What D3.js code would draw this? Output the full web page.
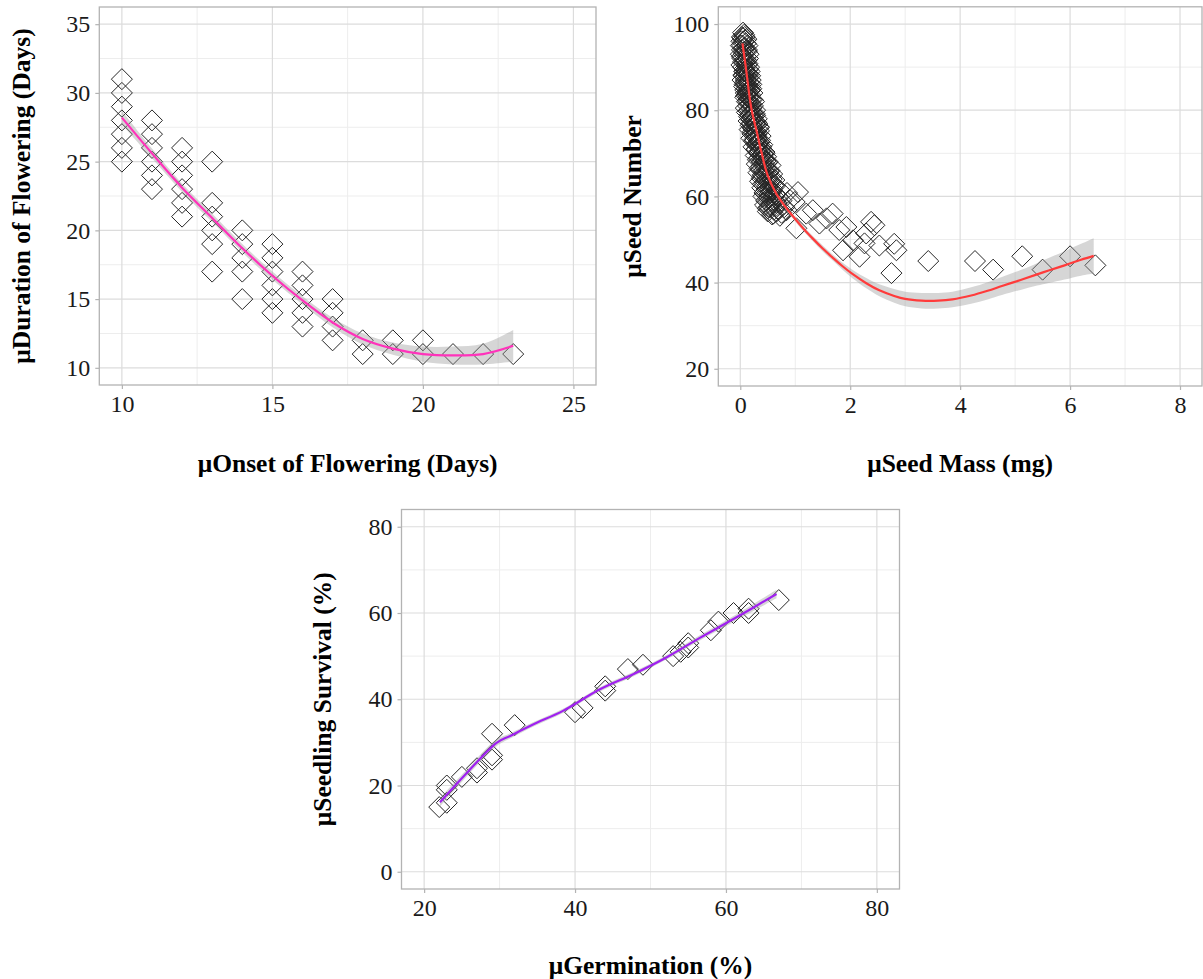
<!DOCTYPE html>
<html>
<head>
<meta charset="utf-8">
<script src="https://cdn.jsdelivr.net/npm/d3@7"></script>
<style>
  html, body { margin: 0; padding: 0; background: #fff; }
  svg { display: block; }
  .tick-label { font-family: "Liberation Serif", "Times New Roman", serif; font-size: 24px; fill: #1a1a1a; }
  .axis-title { font-family: "Liberation Serif", "Times New Roman", serif; font-size: 25.5px; font-weight: bold; fill: #000; }
</style>
</head>
<body>
<svg id="chart" width="1203" height="979"></svg>
<script>
// ---------- Panel A: onset vs. duration of flowering ----------
const onsetDays = [10,10,10,10,10,10,10, 11,11,11,11,11,11, 12,12,12,12,12,12,
  13,13,13,13,13,13, 14,14,14,14,14, 15,15,15,15,15,15, 16,16,16,16,16,
  17,17,17,17, 18,18, 19,19, 20,20, 21, 22, 23];
const durationDays = [31,30,29,28,27,26,25, 28,27,26,25,24,23, 26,25,24,23,22,21,
  25,22,21,20,19,17, 20,19,18,17,15, 19,18,17,16,15,14, 17,16,15,14,13,
  15,14,13,12, 12,11, 12,11, 12,11, 11, 11, 11];
const fitOnsetX = [10,11,12,13,14,15,16,17,18,19,20,21,22,23];
const fitDurationY = [28.2,25.6,23.1,20.9,18.7,16.7,14.9,13.3,12.1,11.4,11.0,10.9,11.0,11.6];
const fitDurationSE = [0.5,0.35,0.3,0.3,0.3,0.3,0.3,0.35,0.4,0.45,0.55,0.65,0.75,1.15];

// ---------- Panel B: seed mass vs. seed number ----------
const seedMass = [
  0.05,0.03,0.08,0.02,0.06,0.10,0.04,0.08,0.12,0.03,0.06,0.10,0.14,0.04,0.08,0.12,0.05,0.16,
  0.09,0.13,0.06,0.18,0.10,0.15,0.08,0.20,0.12,0.17,0.10,0.22,0.14,0.19,0.12,0.25,
  0.07,0.11,0.01,0.13,0.07,0.15,0.01,0.11,0.02,0.14,0.07,0.17,0.11,0.04,0.14,0.19,0.07,0.16,0.13,0.20,0.09,0.18,0.15,0.22,
  0.04,0.09,0.06,0.12,0.03,0.09,0.05,0.13,0.08,0.11,0.06,0.15,0.10,0.12,0.17,0.09,0.14,0.11,0.18,0.16,
  0.14,0.20,0.27,0.12,0.18,0.24,0.30,0.15,0.21,0.28,0.34,0.17,0.23,0.30,0.37,0.20,0.27,0.33,0.40,0.24,
  0.17,0.23,0.10,0.21,0.27,0.16,0.25,0.19,0.31,0.24,0.27,0.34,0.22,0.30,0.36,0.25,0.31,0.38,
  0.19,0.15,0.22,0.26,0.20,0.29,0.23,0.33,0.28,0.26,0.32,0.29,0.35,
  0.30,0.37,0.44,0.28,0.35,0.42,0.50,0.30,0.38,0.46,0.53,0.33,0.41,0.49,0.57,0.36,0.44,0.52,0.60,
  0.34,0.41,0.47,0.32,0.39,0.45,0.55,0.35,0.43,0.50,0.58,0.39,0.47,0.55,0.62,
  0.36,0.40,0.44,0.48,0.37,0.46,0.52,0.42,0.51,
  0.40,0.48,0.56,0.64,0.42,0.50,0.58,0.66,0.45,0.54,0.62,0.70,0.50,0.60,0.72,0.68,0.75,0.80,
  0.41,0.49,0.58,0.45,0.53,0.61,0.47,0.56,0.65,0.52,0.58,0.66,0.75,
  0.44,0.52,0.60,0.50,0.57,0.63,0.71,0.85,0.90,
  1.05,0.99,0.84,1.02,1.20,1.32,1.44,1.57,1.68,1.80,1.93,2.05,1.87,2.17,2.29,2.38,2.26,
  2.44,2.53,2.80,2.84,2.75,3.42,4.27,4.60,5.13,5.50,6.00,6.46];
const seedNumber = [
  98,97,97,96,96,95.5,95,94.5,94,94,93,92.5,92,92,91,90.5,90,90,
  89,88.5,88,88,87,86.5,86,86,85,84.5,84,84,83,82.5,82,82,
  97.5,96.5,95,95,93.5,93,93,91.5,90.5,89.5,89,89,88,87,87.5,87,85.5,85.5,84,85,83,83.5,82,82.5,
  96.8,96.2,94.3,93.7,92.4,91.8,91.2,90.8,89.6,88.7,88.2,88.3,86.6,85.8,86.2,84.7,84.3,83.4,84.8,82.8,
  81,80.5,80,79.5,79,78.5,78,77.5,77,76.5,76,75.5,75,74.5,74,73.5,73,72.5,72,71.5,
  80,81,80.5,79.5,78.8,78.5,77.5,76.5,76.8,76,74.8,75.2,74.5,73.5,73,72.8,71.8,71.5,
  81.5,79.8,78.2,79.2,77.8,77.2,75.8,76.2,74.2,73.2,72.2,70.8,72.6,
  71,70.5,70,69.5,69,68.5,68,67.5,67,66.5,66,65.5,65,64.5,64,63.5,63,62.5,62.5,
  70,69.8,69.2,68.5,68,67.5,67.2,66.5,66,65.5,65.2,64.2,63.8,63.5,63.8,
  70.6,68.8,70.3,67.8,66.2,68.2,65.8,64.8,63.2,
  62,61.5,61,60.5,60,59.5,59,58.5,58,57.5,57,57,56.5,56,55.5,60,59,57.5,
  62.8,62.2,61.8,61,60.5,60,59,58.2,57.8,57.5,55.8,56.5,56.2,
  60.8,59.7,59.3,57.2,61.3,62.4,61.5,60.8,59.2,
  61,58.7,56.8,52.6,56,56.8,53.7,54.9,56,52.2,52.9,49.8,47.5,46,51.4,54.1,49.1,
  53.3,48.6,49,47.5,42.2,45,45,43,46.1,43,46.1,44];
const fitMassX = [0.04,0.1,0.2,0.3,0.39,0.5,0.66,0.8,0.95,1.15,1.32,1.5,1.68,1.85,2.04,2.3,2.53,
  2.8,3.0,3.3,3.6,3.86,4.2,4.5,4.76,5.1,5.4,5.61,5.9,6.2,6.43];
const fitNumberY = [95.5,90,80.5,75,70,64.8,60.5,57.9,55.5,52.5,50.2,47.9,45.8,43.9,42.0,39.8,38.2,
  36.9,36.2,35.8,35.8,36.1,37.0,38.1,39.2,40.6,41.9,42.8,44.0,45.3,46.2];
const fitNumberSE = [0.8,0.7,0.6,0.5,0.5,0.5,0.5,0.5,0.5,0.6,0.6,0.7,0.7,0.8,1.0,1.2,1.4,
  1.6,1.7,1.8,1.8,1.8,1.9,2.0,2.1,2.3,2.6,2.9,3.3,3.7,4.1];

// ---------- Panel C: germination vs. seedling survival ----------
const germination = [22,23,23,23,25,27,27,29,29,29,32,40,41,44,44,47,49,53,54,55,55,58,59,61,63,63,67];
const survival = [15,16,20,19,22,24,23,27,26,32,34,37,38,43,42,47,48,50,51,52,53,56,58,60,61,60,63];
const fitGermX = [22.1,25.65,29.6,31.4,34.5,38.4,43.3,47.7,52.1,56.6,61,66.7];
const fitSurvY = [16.1,22.9,29.9,31.5,34.2,37.3,42.3,45.8,49.7,54.3,58.6,64.4];
const fitSurvSE = [1.0,0.8,0.8,0.6,0.5,0.5,0.5,0.5,0.5,0.6,0.7,1.0];

// Axis breaks
const ticksA_x = [10,15,20,25], ticksA_y = [10,15,20,25,30,35];
const ticksB_x = [0,2,4,6,8], ticksB_y = [20,40,60,80,100];
const ticksC_x = [20,40,60,80], ticksC_y = [0,20,40,60,80];

const svg = d3.select("#chart");

function mids(t) {
  const out = [];
  for (let i = 0; i < t.length - 1; i++) out.push((t[i] + t[i + 1]) / 2);
  return out;
}

function panel(cfg) {
  const x = d3.scaleLinear().domain(cfg.xDomain).range([cfg.left, cfg.right]);
  const y = d3.scaleLinear().domain(cfg.yDomain).range([cfg.bottom, cfg.top]);
  const g = svg.append("g");

  // minor grid
  const xMinor = mids(cfg.xTicks), yMinor = mids(cfg.yTicks);
  g.selectAll(".mx").data(xMinor).join("line")
    .attr("x1", d => x(d)).attr("x2", d => x(d)).attr("y1", cfg.top).attr("y2", cfg.bottom)
    .attr("stroke", "#ededed").attr("stroke-width", 1);
  g.selectAll(".my").data(yMinor).join("line")
    .attr("y1", d => y(d)).attr("y2", d => y(d)).attr("x1", cfg.left).attr("x2", cfg.right)
    .attr("stroke", "#ededed").attr("stroke-width", 1);
  // major grid
  g.selectAll(".gx").data(cfg.xTicks).join("line")
    .attr("x1", d => x(d)).attr("x2", d => x(d)).attr("y1", cfg.top).attr("y2", cfg.bottom)
    .attr("stroke", "#dcdcdc").attr("stroke-width", 1.2);
  g.selectAll(".gy").data(cfg.yTicks).join("line")
    .attr("y1", d => y(d)).attr("y2", d => y(d)).attr("x1", cfg.left).attr("x2", cfg.right)
    .attr("stroke", "#dcdcdc").attr("stroke-width", 1.2);

  // axes (ticks outside the panel)
  const ax = g.append("g").attr("transform", `translate(0,${cfg.bottom})`)
    .call(d3.axisBottom(x).tickValues(cfg.xTicks).tickSize(4).tickPadding(6));
  const ay = g.append("g").attr("transform", `translate(${cfg.left},0)`)
    .call(d3.axisLeft(y).tickValues(cfg.yTicks).tickSize(4).tickPadding(5));
  [ax, ay].forEach(a => {
    a.select(".domain").remove();
    a.selectAll("line").attr("stroke", "#b3b3b3").attr("stroke-width", 1.2);
    a.selectAll("text").attr("class", "tick-label").attr("fill", null);
  });

  // points: open diamonds
  const r = 10.5;
  const diamond = (cx, cy) => `M${cx},${cy - r}L${cx + r},${cy}L${cx},${cy + r}L${cx - r},${cy}Z`;
  g.selectAll(".pt").data(d3.range(cfg.px.length)).join("path")
    .attr("d", i => diamond(x(cfg.px[i]), y(cfg.py[i])))
    .attr("fill", "none").attr("stroke", "#262626").attr("stroke-width", 1);

  // confidence band and smooth
  const idx = d3.range(cfg.fx.length);
  const area = d3.area().curve(d3.curveCatmullRom)
    .x(i => x(cfg.fx[i])).y0(i => y(cfg.fy[i] - cfg.fse[i])).y1(i => y(cfg.fy[i] + cfg.fse[i]));
  g.append("path").attr("d", area(idx)).attr("fill", "#999999").attr("fill-opacity", 0.4);
  const line = d3.line().curve(d3.curveCatmullRom).x(i => x(cfg.fx[i])).y(i => y(cfg.fy[i]));
  g.append("path").attr("d", line(idx)).attr("fill", "none")
    .attr("stroke", cfg.color).attr("stroke-width", 2.2);

  // panel border
  g.append("rect").attr("x", cfg.left).attr("y", cfg.top)
    .attr("width", cfg.right - cfg.left).attr("height", cfg.bottom - cfg.top)
    .attr("fill", "none").attr("stroke", "#b3b3b3").attr("stroke-width", 1.3);

  // titles
  g.append("text").attr("class", "axis-title").attr("text-anchor", "middle")
    .attr("x", (cfg.left + cfg.right) / 2).attr("y", cfg.xTitleY).text(cfg.xTitle);
  g.append("text").attr("class", "axis-title").attr("text-anchor", "middle")
    .attr("transform", `translate(${cfg.yTitleX},${(cfg.top + cfg.bottom) / 2}) rotate(-90)`)
    .text(cfg.yTitle);
}

panel({
  left: 99.3, right: 596, top: 7, bottom: 385,
  xDomain: [9.25, 25.75], yDomain: [8.75, 36.25],
  xTicks: ticksA_x, yTicks: ticksA_y,
  px: onsetDays, py: durationDays,
  fx: fitOnsetX, fy: fitDurationY, fse: fitDurationSE,
  color: "#ff33bb",
  xTitle: "\u03bcOnset of Flowering (Days)", xTitleY: 472,
  yTitle: "\u03bcDuration of Flowering (Days)", yTitleX: 30
});

panel({
  left: 718.3, right: 1202, top: 6.8, bottom: 386,
  xDomain: [-0.4, 8.4], yDomain: [16, 104],
  xTicks: ticksB_x, yTicks: ticksB_y,
  px: seedMass, py: seedNumber,
  fx: fitMassX, fy: fitNumberY, fse: fitNumberSE,
  color: "#ff3b3b",
  xTitle: "\u03bcSeed Mass (mg)", xTitleY: 472,
  yTitle: "\u03bcSeed Number", yTitleX: 641
});

panel({
  left: 401.5, right: 899.5, top: 509.5, bottom: 889,
  xDomain: [17, 83], yDomain: [-4, 84],
  xTicks: ticksC_x, yTicks: ticksC_y,
  px: germination, py: survival,
  fx: fitGermX, fy: fitSurvY, fse: fitSurvSE,
  color: "#a020f0",
  xTitle: "\u03bcGermination (%)", xTitleY: 974,
  yTitle: "\u03bcSeedling Survival (%)", yTitleX: 331
});
</script>
</body>
</html>
